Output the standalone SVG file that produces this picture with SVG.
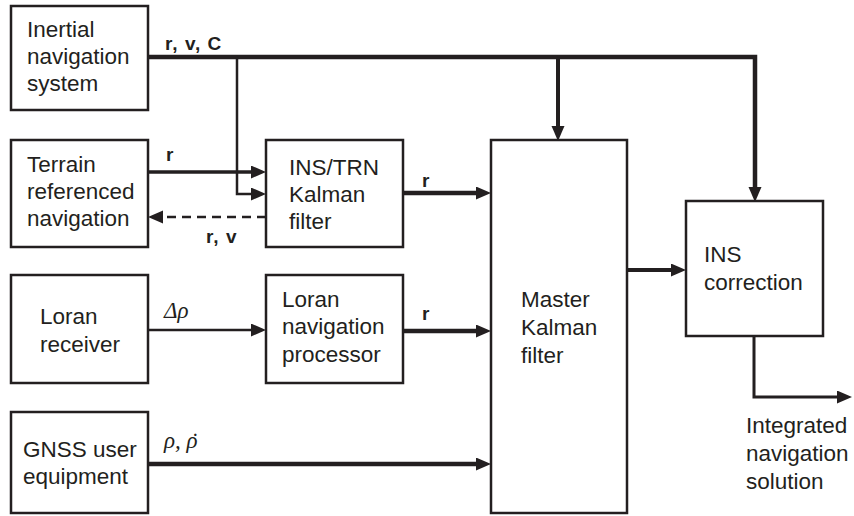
<svg xmlns="http://www.w3.org/2000/svg" width="854" height="516" viewBox="0 0 854 516">
<style>
.box{fill:#fff;stroke:#231f20;stroke-width:2.5}
.t{font-family:"Liberation Sans",Arial,sans-serif;font-size:22.5px;fill:#231f20}
.lb{font-family:"Liberation Sans",Arial,sans-serif;font-size:19px;font-weight:bold;letter-spacing:1px;fill:#231f20}
.gk{font-family:"Liberation Serif","Times New Roman",serif;font-size:23px;font-style:italic;fill:#231f20}
.c{fill:none;stroke:#231f20}
</style>
<defs>
<marker id="ah" markerUnits="userSpaceOnUse" markerWidth="15" markerHeight="14" refX="0" refY="6.5" orient="auto">
<path d="M0,0 L15,6.5 L0,13 z" fill="#231f20"/>
</marker>
</defs>
<rect width="854" height="516" fill="#fff"/>
<g id="connectors">
<path class="c" stroke-width="4.5" d="M148,57 H755 V187" marker-end="url(#ah)"/>
<path class="c" stroke-width="4" d="M558,57 V126" marker-end="url(#ah)"/>
<path class="c" stroke-width="2.5" d="M237,57 V194 H251" marker-end="url(#ah)"/>
<path class="c" stroke-width="3.5" d="M148,172 H251" marker-end="url(#ah)"/>
<path class="c" stroke-width="2.5" stroke-dasharray="9,6" d="M266,217 H163" marker-end="url(#ah)"/>
<path class="c" stroke-width="4.5" d="M403,193 H476" marker-end="url(#ah)"/>
<path class="c" stroke-width="2.5" d="M148,330 H251" marker-end="url(#ah)"/>
<path class="c" stroke-width="4.5" d="M403,331 H476" marker-end="url(#ah)"/>
<path class="c" stroke-width="4.5" d="M148,464 H476" marker-end="url(#ah)"/>
<path class="c" stroke-width="4" d="M627,270 H671" marker-end="url(#ah)"/>
<path class="c" stroke-width="3" d="M754,336 V397 H837" marker-end="url(#ah)"/>
<text class="lb" x="165" y="50">r, v, C</text>
<text class="lb" x="166" y="161">r</text>
<text class="lb" x="206" y="243">r, v</text>
<text class="lb" x="422" y="187">r</text>
<text class="lb" x="422" y="320">r</text>
<text class="gk" x="164" y="318">Δρ</text>
<text class="gk" x="164" y="448">ρ, ρ<tspan dx="-7.5" dy="1">˙</tspan></text>
</g>
<g id="ins">
<rect class="box" x="11" y="6" width="137" height="104"/>
<text class="t" x="27" y="37">Inertial</text>
<text class="t" x="27" y="64">navigation</text>
<text class="t" x="27" y="91">system</text>
</g>
<g id="trn">
<rect class="box" x="11" y="140" width="137" height="107"/>
<text class="t" x="27" y="172">Terrain</text>
<text class="t" x="27" y="199">referenced</text>
<text class="t" x="27" y="226">navigation</text>
</g>
<g id="instrn">
<rect class="box" x="266" y="140" width="137" height="107"/>
<text class="t" x="289" y="175">INS/TRN</text>
<text class="t" x="289" y="202">Kalman</text>
<text class="t" x="289" y="229">filter</text>
</g>
<g id="loran">
<rect class="box" x="11" y="275" width="137" height="108"/>
<text class="t" x="40" y="324">Loran</text>
<text class="t" x="40" y="352">receiver</text>
</g>
<g id="loranproc">
<rect class="box" x="266" y="275" width="137" height="108"/>
<text class="t" x="282" y="307">Loran</text>
<text class="t" x="282" y="334">navigation</text>
<text class="t" x="282" y="362">processor</text>
</g>
<g id="gnss">
<rect class="box" x="11" y="412" width="137" height="101"/>
<text class="t" x="23" y="457">GNSS user</text>
<text class="t" x="23" y="484">equipment</text>
</g>
<g id="master">
<rect class="box" x="491" y="140" width="136" height="373"/>
<text class="t" x="521" y="307">Master</text>
<text class="t" x="521" y="335">Kalman</text>
<text class="t" x="521" y="363">filter</text>
</g>
<g id="inscorr">
<rect class="box" x="686" y="201" width="137" height="135"/>
<text class="t" x="704" y="262">INS</text>
<text class="t" x="704" y="290">correction</text>
</g>
<g id="output">
<text class="t" x="746" y="433">Integrated</text>
<text class="t" x="746" y="461">navigation</text>
<text class="t" x="746" y="489">solution</text>
</g>
</svg>
